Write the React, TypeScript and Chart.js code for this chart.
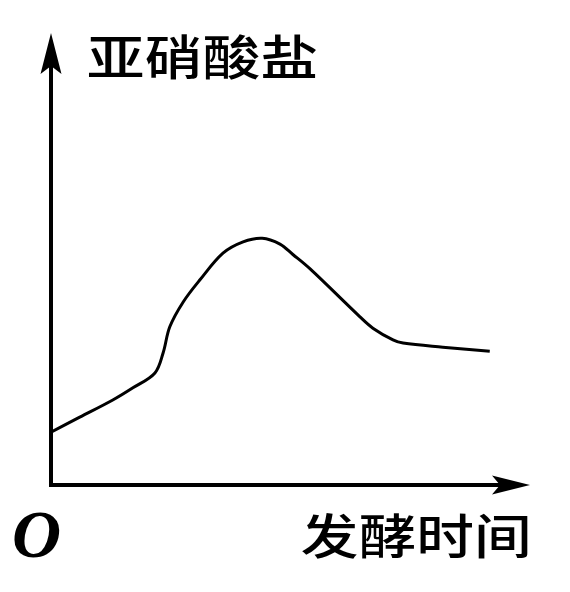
import React, { useEffect, useRef } from "react";
import { Chart, registerables } from "chart.js";

Chart.register(...registerables);

const xValues = [0, 0.6, 1.29, 1.71, 2.17, 2.34, 2.48, 2.76, 3.11, 3.59, 4.01, 4.41, 4.78, 5.05, 5.41, 6.45, 6.72, 7.14, 7.35, 8.18, 9.16];
const yValues = [1.17, 1.5, 1.88, 2.15, 2.48, 2.92, 3.5, 4.05, 4.54, 5.13, 5.38, 5.46, 5.33, 5.1, 4.78, 3.72, 3.47, 3.21, 3.14, 3.05, 2.96];
const yAxisLabel = "亚硝酸盐";
const xAxisLabel = "发酵时间";
const originLabel = "O";

const W = 570;
const H = 592;

const axesPlugin = {
  id: "axesPlugin",
  afterDraw(chart: any) {
    const ctx: CanvasRenderingContext2D = chart.ctx;
    const xs = chart.scales.x;
    const ys = chart.scales.y;
    const ox = xs.getPixelForValue(0);
    const oy = ys.getPixelForValue(0);
    const right = chart.chartArea.right;
    const top = chart.chartArea.top;
    ctx.save();
    ctx.strokeStyle = "#000";
    ctx.fillStyle = "#000";
    ctx.lineWidth = 4;
    ctx.lineCap = "butt";
    ctx.beginPath();
    ctx.moveTo(ox, oy + 2);
    ctx.lineTo(ox, top + 30);
    ctx.stroke();
    ctx.beginPath();
    ctx.moveTo(ox - 2, oy);
    ctx.lineTo(right - 28, oy);
    ctx.stroke();
    ctx.beginPath();
    ctx.moveTo(ox, top);
    ctx.lineTo(ox + 10.5, top + 41);
    ctx.lineTo(ox, top + 33);
    ctx.lineTo(ox - 10.5, top + 41);
    ctx.closePath();
    ctx.fill();
    ctx.beginPath();
    ctx.moveTo(right, oy);
    ctx.lineTo(right - 38, oy + 9.5);
    ctx.lineTo(right - 30, oy);
    ctx.lineTo(right - 38, oy - 9.5);
    ctx.closePath();
    ctx.fill();

    const drawStretched = (text: string, left: number, topY: number, targetW: number, size: number) => {
      ctx.save();
      ctx.font = `500 ${size}px "Noto Sans CJK SC"`;
      ctx.textBaseline = "alphabetic";
      const m = ctx.measureText(text);
      const w = m.actualBoundingBoxLeft + m.actualBoundingBoxRight;
      const sx = targetW / w;
      ctx.translate(left, topY + m.actualBoundingBoxAscent);
      ctx.scale(sx, 1);
      ctx.fillText(text, m.actualBoundingBoxLeft, 0);
      ctx.restore();
    };
    drawStretched(yAxisLabel, 88, 34, 229, 48);
    drawStretched(xAxisLabel, 302, 513, 226, 48);

    ctx.save();
    ctx.font = `italic bold 68px "Liberation Serif"`;
    ctx.textBaseline = "alphabetic";
    ctx.fillText(originLabel, 12, 557);
    ctx.restore();
    ctx.restore();
  },
};

export default function App() {
  const ref = useRef<HTMLCanvasElement>(null);
  useEffect(() => {
    if (!ref.current) return;
    const chart = new Chart(ref.current, {
      type: "line",
      data: {
        datasets: [
          {
            data: xValues.map((x, i) => ({ x, y: yValues[i] })),
            borderColor: "#000",
            borderWidth: 3,
            pointRadius: 0,
            tension: 0.35,
            fill: false,
          },
        ],
      },
      options: {
        animation: false,
        responsive: false,
        devicePixelRatio: 1,
        layout: { padding: { left: 51, top: 33, right: W - 530, bottom: H - 485 } },
        plugins: { legend: { display: false }, tooltip: { enabled: false } },
        scales: {
          x: { type: "linear", min: 0, max: 10, display: false },
          y: { type: "linear", min: 0, max: 10, display: false },
        },
      },
      plugins: [axesPlugin],
    });
    return () => chart.destroy();
  }, []);
  return (
    <div style={{ position: "fixed", left: 0, top: 0, width: W, height: H, background: "#fff" }}>
      <canvas ref={ref} width={W} height={H} style={{ width: W, height: H, display: "block" }} />
    </div>
  );
}
